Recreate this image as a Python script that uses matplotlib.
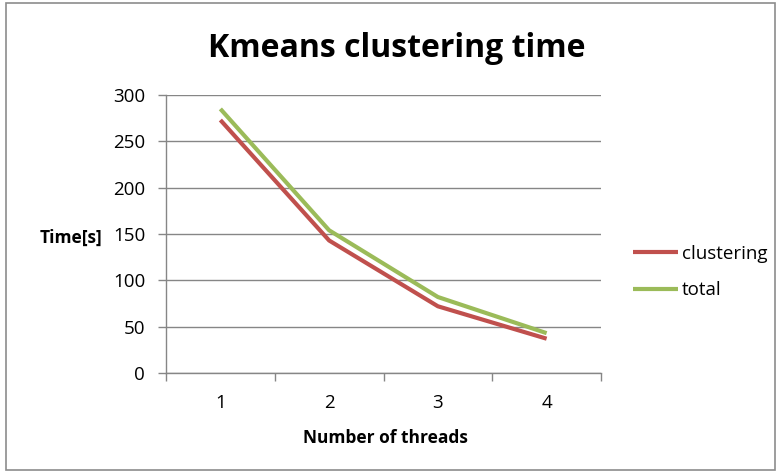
import matplotlib
matplotlib.use('Agg')
import matplotlib.pyplot as plt
from matplotlib.patches import Rectangle

threads = ['1', '2', '3', '4']
clustering = [273, 143, 72, 37]
total = [285, 154, 82, 43]

plt.rcParams['font.family'] = ['Open Sans', 'DejaVu Sans']
grid_c = '#868686'

fig = plt.figure(figsize=(7.81, 4.74), dpi=100)
fig.patches.append(Rectangle((6/781, 4/474), 769/781, 467/474, transform=fig.transFigure,
                             fill=False, edgecolor='#8c8c8c', linewidth=1.2))

ax = fig.add_axes([166/781, 1-373/474, 435/781, 278/474])
x = list(range(len(threads)))
ax.plot(x, clustering, color='#C0504D', linewidth=3, label='clustering', solid_capstyle='butt')
ax.plot(x, total, color='#9BBB59', linewidth=3, label='total', solid_capstyle='butt')

ax.set_xlim(-0.5, 3.5)
ax.set_ylim(0, 300)
ax.set_yticks(range(0, 301, 50))
ax.set_xticks(x)
ax.set_xticklabels(threads)
ax.set_xticks([-0.5, 0.5, 1.5, 2.5, 3.5], minor=True)
ax.tick_params(axis='x', which='major', length=0, pad=15, labelsize=13.5)
ax.tick_params(axis='x', which='minor', length=6, color=grid_c, width=1)
ax.tick_params(axis='y', length=6, color=grid_c, width=1, labelsize=13.5, pad=9)
ax.yaxis.grid(True, color=grid_c, linewidth=1)
ax.set_axisbelow(True)
for s in ['top', 'right']:
    ax.spines[s].set_visible(False)
for s in ['left', 'bottom']:
    ax.spines[s].set_color(grid_c)
    ax.spines[s].set_linewidth(1)

fig.text(397/781, 1-57/474, 'Kmeans clustering time', ha='center', va='baseline',
         fontsize=23, fontweight='bold')
fig.text(71/781, 1-243/474, 'Time[s]', ha='center', va='baseline', fontsize=12.5, fontweight='bold')
fig.text(385/781, 1-443/474, 'Number of threads', ha='center', va='baseline', fontsize=12.5, fontweight='bold')

fig.legend(loc='center left', bbox_to_anchor=(633/781, 1-272/474), frameon=False,
           borderaxespad=0, borderpad=0,
           fontsize=13.5, handlelength=2.4, handletextpad=0.2, labelspacing=1.0)

fig.savefig('out.png', dpi=100)
